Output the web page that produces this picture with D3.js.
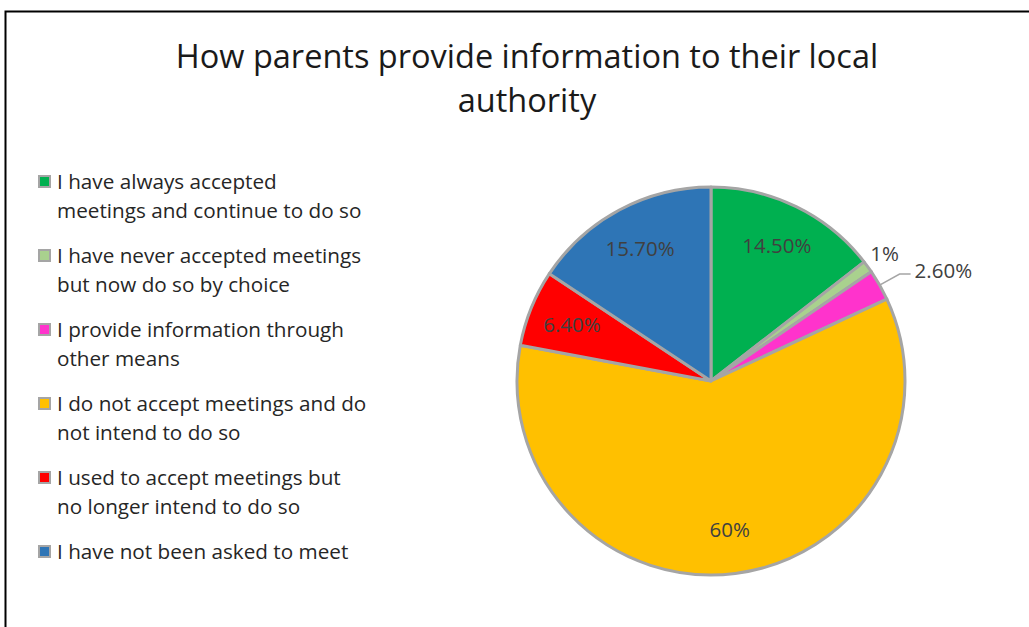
<!DOCTYPE html>
<html>
<head>
<meta charset="utf-8">
<script src="https://cdn.jsdelivr.net/npm/d3@7"></script>
<style>
  body { margin: 0; background: #fff; }
  svg text { font-family: "Open Sans", "Liberation Sans", Arial, sans-serif; }
</style>
</head>
<body>
<div id="chart"></div>
<script>
// chart values
const categories = [
    ["I have always accepted", "meetings and continue to do so"],
    ["I have never accepted meetings", "but now do so by choice"],
    ["I provide information through", "other means"],
    ["I do not accept meetings and do", "not intend to do so"],
    ["I used to accept meetings but", "no longer intend to do so"],
    ["I have not been asked to meet"]
];
const values = [14.5, 1, 2.6, 60, 6.4, 15.7];
const valueLabels = ["14.50%", "1%", "2.60%", "60%", "6.40%", "15.70%"];
const colors = ["#00B050", "#A9D18E", "#FF33CC", "#FFC000", "#FF0000", "#2E75B6"];
const titleLines = ["How parents provide information to their local", "authority"];

const width = 1029, height = 627;

const svg = d3.select("#chart").append("svg")
    .attr("width", width)
    .attr("height", height);

// chart frame
svg.append("rect")
    .attr("x", 5.5)
    .attr("y", 11.5)
    .attr("width", 1040)
    .attr("height", 640)
    .attr("fill", "#fff")
    .attr("stroke", "#000")
    .attr("stroke-width", 2);

// title
svg.append("text")
    .attr("text-anchor", "middle")
    .attr("font-size", 32.5)
    .attr("fill", "#1a1a1a")
    .selectAll("tspan")
    .data(titleLines)
    .join("tspan")
    .attr("x", 527)
    .attr("y", (d, i) => 68 + i * 44)
    .text(d => d);

// legend
let legend = svg.append("g").attr("transform", "translate(38, 182)");

let items = legend.selectAll("g")
    .data(categories)
    .join("g")
    .attr("transform", (d, i) => `translate(0, ${i * 74})`);

items.append("rect")
    .attr("x", 1)
    .attr("y", -6)
    .attr("width", 11)
    .attr("height", 11)
    .attr("fill", (d, i) => colors[i])
    .attr("stroke", "#A5A5A5")
    .attr("stroke-width", 2);

items.append("text")
    .attr("font-size", 20.7)
    .attr("fill", "#262626")
    .selectAll("tspan")
    .data(d => d)
    .join("tspan")
    .attr("x", 19)
    .attr("y", (d, i) => i * 29)
    .attr("dy", "0.35em")
    .text(d => d);

// pie
const cx = 711, cy = 381, radius = 194;

let pie = d3.pie().sort(null).value(d => d);
let arcs = pie(values);

let arc = d3.arc().innerRadius(0).outerRadius(radius);
let labelArc = d3.arc().innerRadius(150).outerRadius(150);
let outerArc = d3.arc().innerRadius(215).outerRadius(215);

let g = svg.append("g").attr("transform", `translate(${cx}, ${cy})`);

g.selectAll("path.slice")
    .data(arcs)
    .join("path")
    .attr("class", "slice")
    .attr("d", arc)
    .attr("fill", (d, i) => colors[i])
    .attr("stroke", "#A5A5A5")
    .attr("stroke-width", 3)
    .attr("stroke-linejoin", "round");

// small slices get their labels outside the pie
const outside = [1, 2];

g.selectAll("text.inside")
    .data(arcs.filter((d, i) => !outside.includes(i)))
    .join("text")
    .attr("class", "inside")
    .attr("transform", d => `translate(${labelArc.centroid(d)})`)
    .attr("text-anchor", "middle")
    .attr("dy", "0.35em")
    .attr("font-size", 20.5)
    .attr("fill", "#404040")
    .text(d => valueLabels[d.index]);

// 1% label
let one = arcs[1];
g.append("text")
    .attr("transform", `translate(${outerArc.centroid(one)})`)
    .attr("text-anchor", "middle")
    .attr("dy", "0.35em")
    .attr("font-size", 20.5)
    .attr("fill", "#404040")
    .text(valueLabels[1]);

// 2.60% label with leader line
let pink = arcs[2];
let edge = d3.arc().innerRadius(radius).outerRadius(radius).centroid(pink);
let bend = [edge[0] + 20, edge[1] - 11];
g.append("polyline")
    .attr("points", [edge, bend, [bend[0] + 11, bend[1]]].map(p => p.join(",")).join(" "))
    .attr("fill", "none")
    .attr("stroke", "#A5A5A5")
    .attr("stroke-width", 1.5);

g.append("text")
    .attr("x", bend[0] + 15)
    .attr("y", bend[1] - 3)
    .attr("dy", "0.35em")
    .attr("font-size", 20.5)
    .attr("fill", "#404040")
    .text(valueLabels[2]);
</script>
</body>
</html>
